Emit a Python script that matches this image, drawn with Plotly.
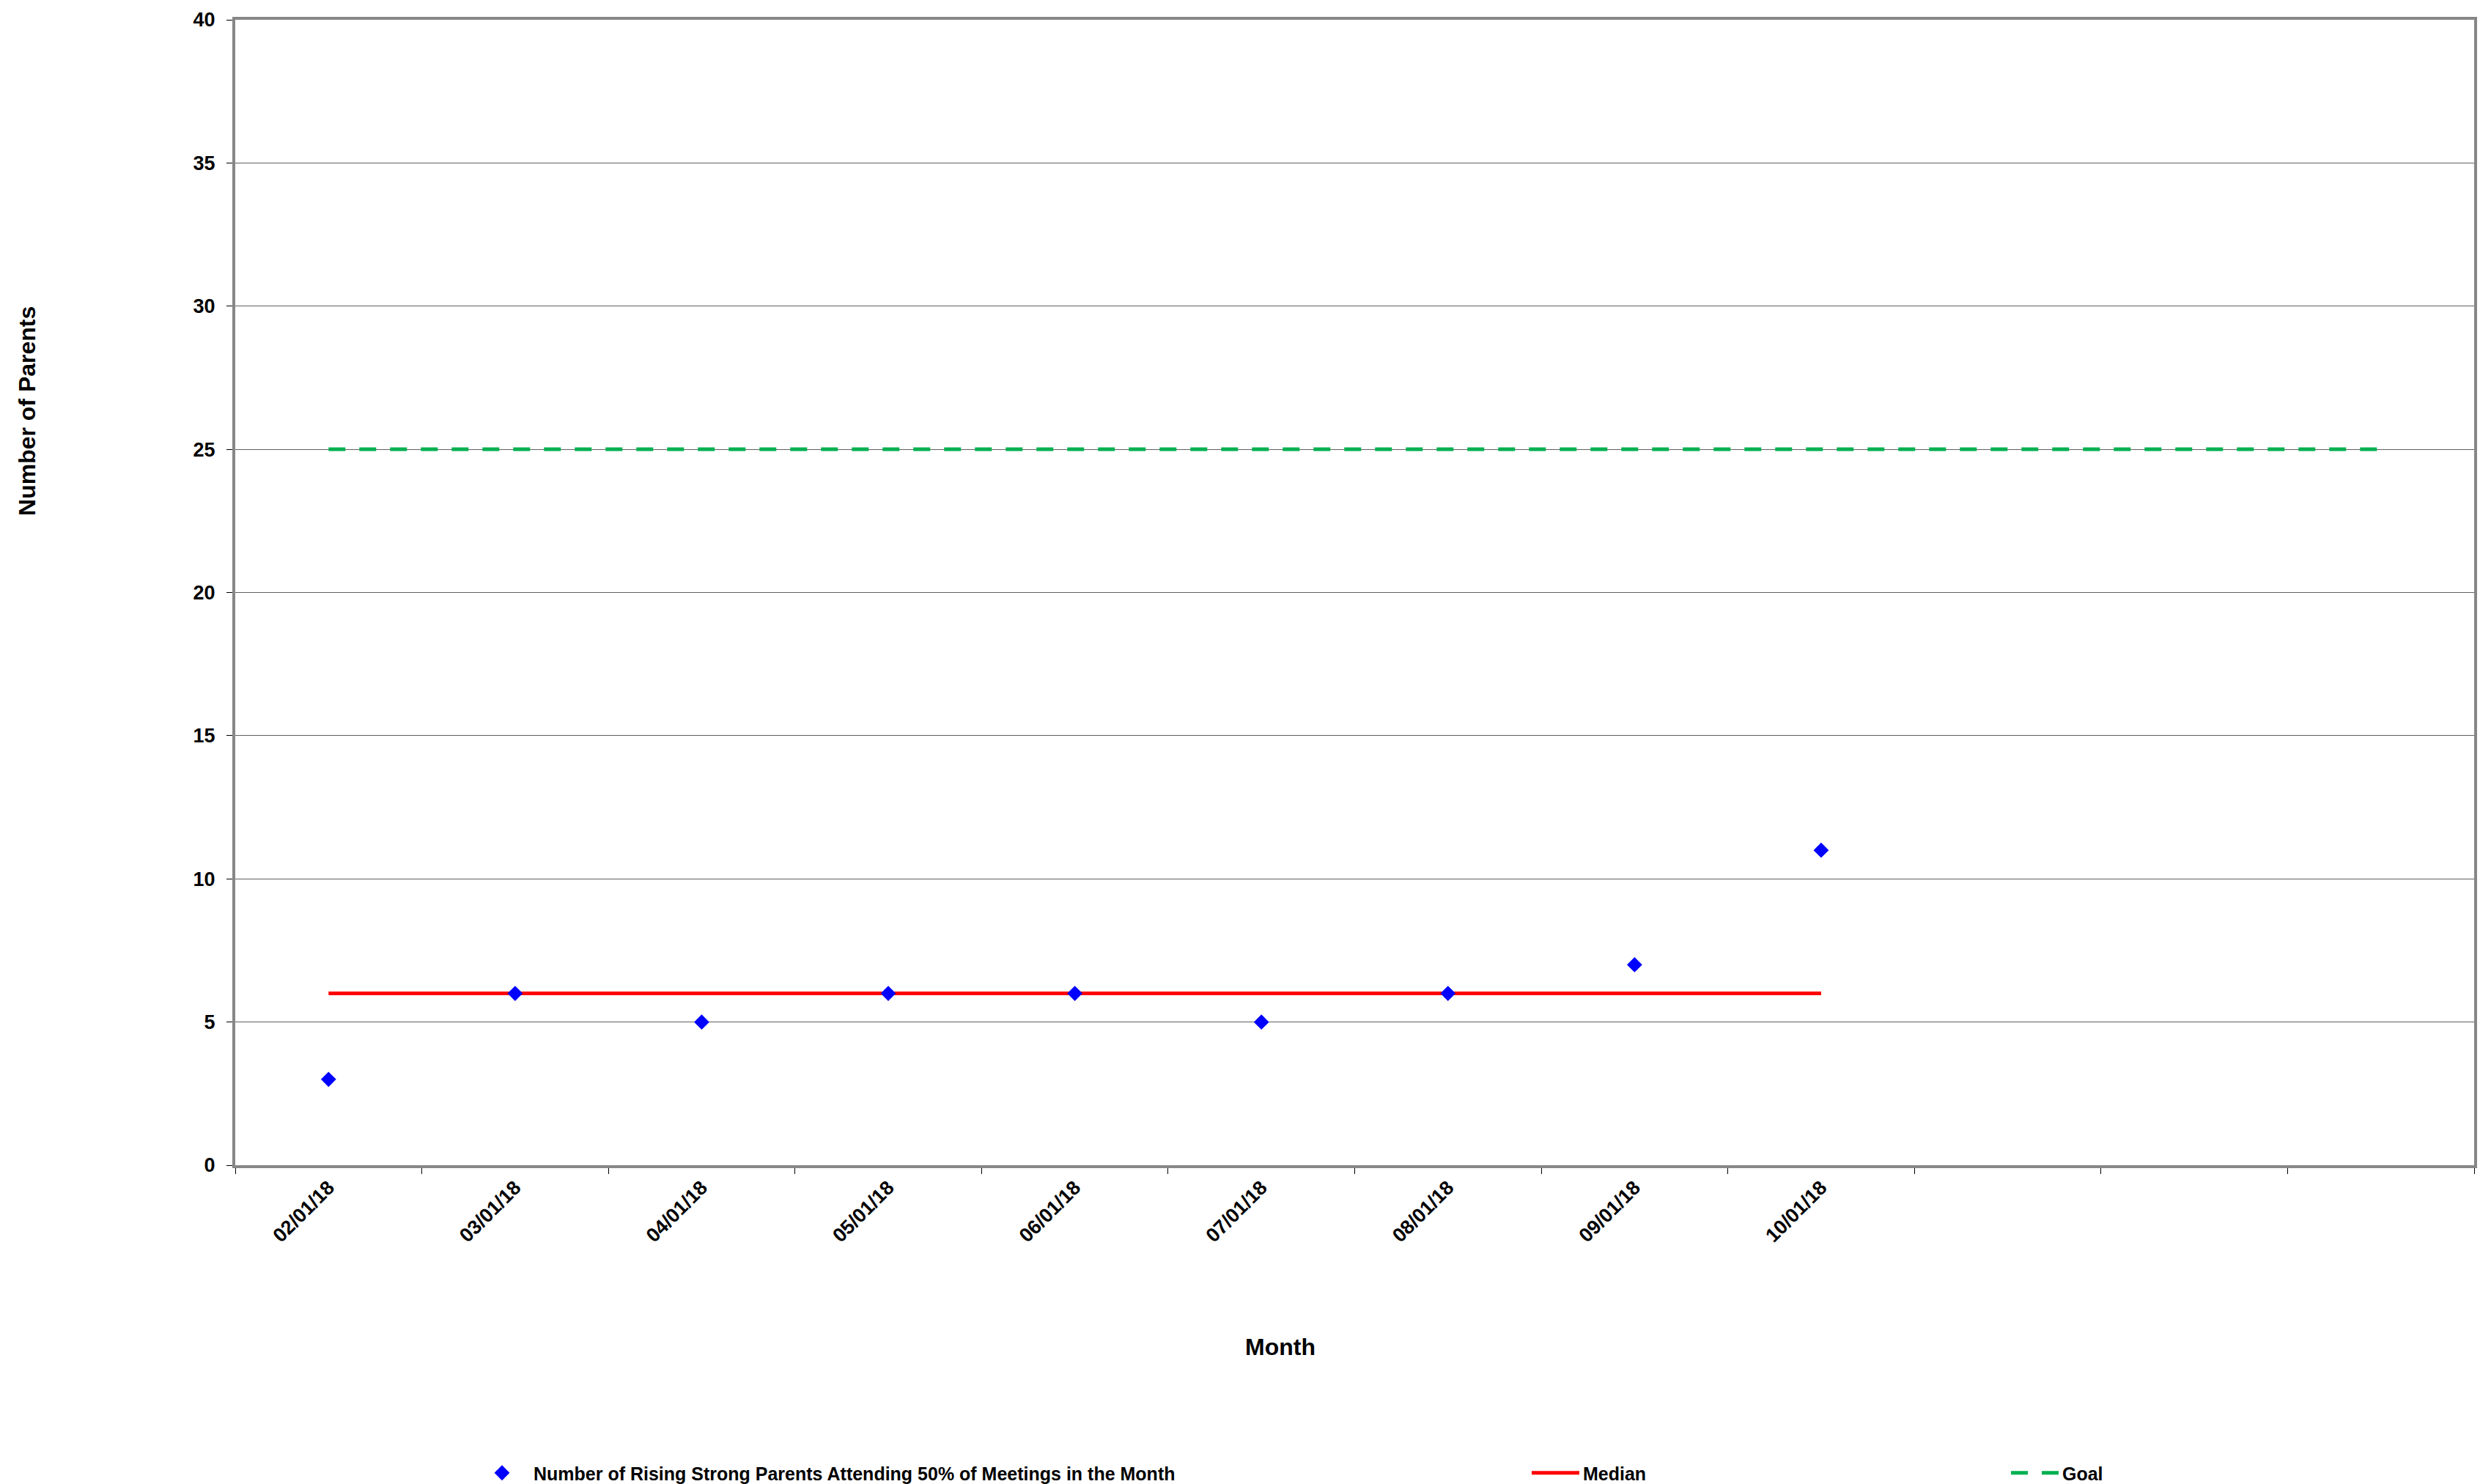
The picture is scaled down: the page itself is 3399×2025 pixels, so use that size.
import plotly.graph_objects as go

# Monthly categories on the x axis (last three months have no data yet)
months = ["02/01/18", "03/01/18", "04/01/18", "05/01/18", "06/01/18",
          "07/01/18", "08/01/18", "09/01/18", "10/01/18",
          "11/01/18", "12/01/18", "01/01/19"]
tick_labels = ["02/01/18", "03/01/18", "04/01/18", "05/01/18", "06/01/18",
               "07/01/18", "08/01/18", "09/01/18", "10/01/18", "", "", ""]

# Parents attending at least half of the meetings each month
parents = [3, 6, 5, 6, 6, 5, 6, 7, 11]
median_vals = [6, 6, 6, 6, 6, 6, 6, 6, 6]
goal_vals = [25] * 12

FONT = "Liberation Sans, Arial, Helvetica, sans-serif"
W, H = 3399, 2025
L, R, T, B = 321, 23, 24, 435

fig = go.Figure()

fig.add_trace(go.Scatter(
    x=months[:len(goal_vals)], y=goal_vals, mode="lines", name="Goal",
    line=dict(color="#00B050", width=5, dash="23px,19px"),
    legend="legend3",
))
fig.add_trace(go.Scatter(
    x=months[:len(median_vals)], y=median_vals, mode="lines", name="Median",
    line=dict(color="#FF0000", width=5),
    legend="legend2",
))
fig.add_trace(go.Scatter(
    x=months[:len(parents)], y=parents, mode="markers",
    name="Number of Rising Strong Parents Attending 50% of Meetings in the Month",
    marker=dict(symbol="diamond", size=16, color="#0000FF", line=dict(width=0)),
    legend="legend",
))

legend_font = dict(family=FONT, size=25, color="black", weight="bold")

def legend_box(px, itemwidth):
    return dict(
        xref="container", yref="container",
        x=px / W, y=1 - 2010 / H, xanchor="left", yanchor="middle",
        orientation="h", font=legend_font, bgcolor="rgba(0,0,0,0)",
        borderwidth=0, itemwidth=itemwidth,
    )

tick_font = dict(family=FONT, size=27, color="black", weight="bold")
title_font = dict(family=FONT, size=32, color="black", weight="bold")

fig.update_layout(
    width=W, height=H,
    margin=dict(l=L, r=R, t=T, b=B, pad=0),
    paper_bgcolor="white", plot_bgcolor="white",
    font=dict(family=FONT, color="black"),
    showlegend=True,
    legend=legend_box(642, 76),
    legend2=legend_box(2085, 65),
    legend3=legend_box(2739, 65),
    xaxis=dict(
        type="category", categoryorder="array", categoryarray=months,
        range=[-0.5, len(months) - 0.5],
        tickmode="array", tickvals=months, ticktext=tick_labels,
        tickson="boundaries", ticks="outside", ticklen=8, tickwidth=1,
        tickcolor="black", tickangle=-45, tickfont=tick_font,
        showgrid=False, zeroline=False,
        showline=True, linecolor="#878787", linewidth=4, mirror=True,
    ),
    yaxis=dict(
        range=[0, 40], tick0=0, dtick=5,
        ticks="outside", ticklen=8, tickwidth=1, tickcolor="black",
        ticklabelstandoff=10, tickfont=tick_font,
        showgrid=True, gridcolor="#606060", gridwidth=1.2, zeroline=False,
        showline=True, linecolor="#878787", linewidth=4, mirror=True,
    ),
    annotations=[
        dict(text="Month", xref="paper", yref="paper",
             x=(1747 - L) / (W - L - R), y=(H - B - 1838) / (H - T - B),
             xanchor="center", yanchor="middle", showarrow=False,
             font=title_font),
        dict(text="Number of Parents", xref="paper", yref="paper",
             x=(37 - L) / (W - L - R), y=(H - B - 559) / (H - T - B),
             xanchor="center", yanchor="middle", showarrow=False, textangle=-90,
             font=title_font),
    ],
)

fig.write_html("out.html")
